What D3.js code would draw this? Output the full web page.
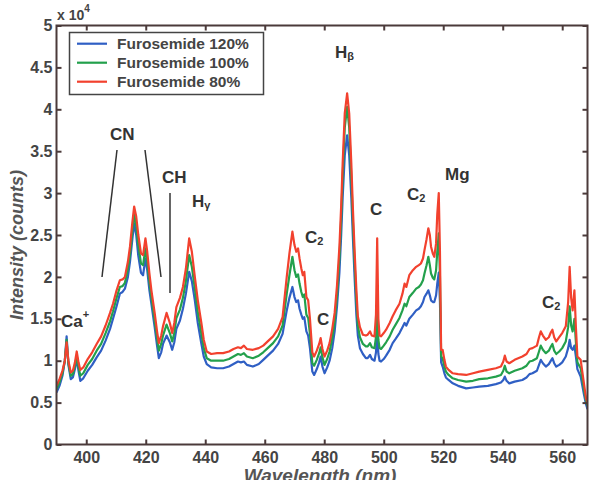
<!DOCTYPE html>
<html><head><meta charset="utf-8">
<script src="https://cdn.jsdelivr.net/npm/d3@7"></script>
<style>body{margin:0;background:#fff}svg{display:block}</style>
</head><body>
<svg id="c" width="590" height="480"></svg>
<script>
// ---- data (intensity in units of 1e4 counts) ----
const seriesNames = ["Furosemide 120%", "Furosemide 100%", "Furosemide 80%"];
const seriesColors = ["#2f5fc4", "#23a04c", "#f2412e"];
const xTicks = [400, 420, 440, 460, 480, 500, 520, 540, 560];
const yTicks = [0, 0.5, 1, 1.5, 2, 2.5, 3, 3.5, 4, 4.5, 5];
const yTickLabels = ["0", "0.5", "1", "1.5", "2", "2.5", "3", "3.5", "4", "4.5", "5"];

const blue120 = [[390.0,0.62],[391.0,0.70],[392.0,0.82],[392.8,1.00],[393.4,1.29],[394.0,0.95],[394.8,0.78],[395.5,0.80],[396.2,0.90],[396.8,1.02],[397.4,0.88],[398.0,0.76],[399.0,0.79],[400.5,0.88],[402.0,0.95],[403.5,1.04],[405.0,1.12],[406.5,1.24],[408.0,1.38],[409.0,1.50],[410.2,1.65],[411.3,1.80],[412.2,1.82],[413.0,1.86],[414.0,2.00],[414.7,2.18],[415.5,2.45],[416.1,2.64],[416.8,2.50],[417.5,2.25],[418.4,2.05],[419.1,2.02],[419.9,2.22],[420.5,2.08],[421.2,1.85],[421.9,1.68],[423.0,1.40],[423.8,1.18],[424.4,1.03],[425.2,1.10],[425.8,1.20],[427.0,1.30],[428.1,1.22],[428.9,1.13],[429.6,1.22],[430.3,1.38],[431.5,1.48],[432.5,1.62],[433.5,1.80],[434.6,2.06],[435.5,1.95],[436.5,1.72],[437.5,1.45],[438.7,1.20],[439.5,1.05],[440.5,0.96],[442.0,0.92],[444.0,0.91],[446.0,0.91],[448.0,0.93],[449.5,0.96],[451.0,0.99],[452.0,0.98],[453.0,0.99],[454.0,0.95],[456.0,0.93],[458.0,0.96],[459.5,1.01],[461.0,1.06],[462.8,1.12],[464.5,1.20],[466.0,1.32],[467.4,1.60],[468.3,1.75],[469.3,1.88],[470.0,1.76],[470.6,1.70],[471.2,1.72],[471.7,1.62],[472.3,1.55],[472.8,1.50],[473.3,1.52],[474.0,1.35],[474.6,1.30],[475.2,1.15],[476.0,0.87],[476.6,0.83],[477.5,0.90],[478.3,0.98],[478.8,1.05],[479.4,0.93],[480.1,0.85],[481.0,0.92],[481.8,1.00],[482.7,1.15],[483.5,1.35],[484.3,1.65],[485.1,2.05],[485.7,2.50],[486.2,2.95],[486.9,3.45],[487.7,3.69],[488.4,3.45],[489.1,2.95],[489.6,2.50],[490.2,2.00],[490.8,1.55],[491.3,1.30],[492.0,1.15],[493.0,1.08],[494.0,1.03],[494.6,1.03],[495.4,1.07],[496.0,1.02],[496.9,1.00],[497.4,1.10],[497.8,1.35],[498.2,1.08],[498.6,1.00],[499.1,0.99],[500.0,1.02],[500.8,1.06],[502.0,1.13],[503.0,1.21],[504.0,1.26],[505.3,1.33],[506.3,1.40],[507.0,1.45],[507.6,1.42],[508.6,1.50],[509.8,1.55],[510.9,1.60],[511.8,1.62],[512.5,1.65],[513.2,1.70],[513.7,1.76],[514.4,1.80],[515.0,1.84],[515.5,1.78],[515.9,1.72],[516.5,1.70],[517.0,1.70],[517.6,1.78],[518.0,1.92],[518.5,2.05],[518.9,1.70],[519.3,0.98],[519.8,0.93],[520.4,0.85],[520.9,0.80],[521.8,0.77],[523.2,0.73],[525.0,0.70],[527.7,0.67],[530.0,0.68],[532.1,0.69],[535.0,0.70],[537.7,0.72],[539.4,0.74],[540.2,0.77],[540.7,0.81],[541.3,0.76],[542.2,0.73],[544.0,0.75],[546.6,0.77],[548.0,0.80],[549.0,0.84],[550.0,0.85],[551.5,0.88],[552.2,0.95],[552.8,1.01],[553.5,0.97],[554.5,0.93],[555.5,0.96],[556.2,1.00],[556.7,1.03],[557.3,0.97],[558.0,0.93],[559.0,0.95],[560.0,0.98],[561.2,1.05],[562.0,1.15],[562.5,1.25],[563.0,1.15],[563.5,1.13],[564.1,1.18],[564.6,1.05],[565.1,0.90],[566.2,0.81],[567.3,0.60],[568.0,0.48],[568.5,0.42]];

const green100 = [[390.0,0.66],[391.0,0.74],[392.0,0.85],[392.8,1.00],[393.4,1.25],[394.0,0.97],[394.8,0.82],[395.5,0.84],[396.2,0.94],[396.8,1.06],[397.4,0.93],[398.0,0.82],[399.0,0.85],[400.5,0.95],[402.0,1.02],[403.5,1.12],[405.0,1.20],[406.5,1.33],[408.0,1.47],[409.0,1.59],[410.2,1.75],[411.3,1.88],[412.2,1.89],[413.0,1.93],[414.0,2.09],[414.7,2.27],[415.5,2.55],[416.1,2.75],[416.8,2.61],[417.5,2.38],[418.4,2.16],[419.1,2.14],[419.9,2.34],[420.5,2.19],[421.2,1.95],[421.9,1.76],[423.0,1.48],[423.8,1.27],[424.4,1.12],[425.2,1.20],[425.8,1.30],[427.0,1.43],[428.1,1.33],[428.9,1.23],[429.6,1.33],[430.3,1.51],[431.5,1.61],[432.5,1.75],[433.5,1.95],[434.6,2.26],[435.5,2.12],[436.5,1.86],[437.5,1.58],[438.7,1.32],[439.5,1.15],[440.5,1.03],[442.0,1.00],[444.0,1.00],[446.0,1.00],[448.0,1.02],[449.5,1.05],[451.0,1.08],[452.0,1.07],[453.0,1.09],[454.0,1.05],[456.0,1.03],[458.0,1.06],[459.5,1.10],[461.0,1.15],[462.8,1.21],[464.5,1.29],[466.0,1.42],[467.4,1.80],[468.3,2.02],[469.3,2.24],[470.0,2.08],[470.6,2.00],[471.2,2.03],[471.7,1.92],[472.3,1.82],[472.8,1.76],[473.3,1.79],[474.0,1.55],[474.6,1.51],[475.2,1.32],[476.0,0.97],[476.6,0.94],[477.5,1.01],[478.3,1.09],[478.8,1.16],[479.4,1.04],[480.1,0.95],[481.0,1.02],[481.8,1.11],[482.7,1.27],[483.5,1.46],[484.3,1.78],[485.1,2.22],[485.7,2.70],[486.2,3.20],[486.9,3.78],[487.7,4.03],[488.4,3.78],[489.1,3.20],[489.6,2.70],[490.2,2.18],[490.8,1.72],[491.3,1.42],[492.0,1.28],[493.0,1.20],[494.0,1.17],[494.6,1.17],[495.4,1.21],[496.0,1.16],[496.9,1.15],[497.4,1.28],[497.8,1.60],[498.2,1.25],[498.6,1.15],[499.1,1.14],[500.0,1.18],[500.8,1.22],[502.0,1.29],[503.0,1.37],[504.0,1.43],[505.3,1.51],[506.3,1.60],[507.0,1.68],[507.6,1.65],[508.6,1.76],[509.8,1.81],[510.9,1.86],[511.8,1.88],[512.5,1.91],[513.2,1.96],[513.7,2.04],[514.4,2.14],[515.0,2.24],[515.5,2.14],[515.9,2.04],[516.5,1.99],[517.0,1.97],[517.6,2.08],[518.0,2.30],[518.5,2.52],[518.9,2.00],[519.3,1.05],[519.8,1.03],[520.4,0.93],[520.9,0.87],[521.8,0.83],[523.2,0.79],[525.0,0.77],[527.7,0.75],[530.0,0.76],[532.1,0.78],[535.0,0.79],[537.7,0.81],[539.4,0.83],[540.2,0.88],[540.7,0.94],[541.3,0.87],[542.2,0.85],[544.0,0.88],[546.6,0.91],[548.0,0.94],[549.0,0.99],[550.0,1.00],[551.5,1.03],[552.2,1.11],[552.8,1.18],[553.5,1.13],[554.5,1.09],[555.5,1.12],[556.2,1.17],[556.7,1.20],[557.3,1.12],[558.0,1.08],[559.0,1.11],[560.0,1.15],[561.2,1.23],[562.0,1.40],[562.5,1.65],[563.0,1.42],[563.5,1.35],[564.1,1.50],[564.6,1.22],[565.1,0.98],[566.2,0.91],[567.3,0.66],[568.0,0.52],[568.5,0.46]];

const red80 = [[390.0,0.70],[391.0,0.78],[392.0,0.88],[392.8,1.00],[393.4,1.22],[394.0,1.00],[394.8,0.86],[395.5,0.88],[396.2,0.98],[396.8,1.11],[397.4,0.98],[398.0,0.89],[399.0,0.92],[400.5,1.02],[402.0,1.10],[403.5,1.20],[405.0,1.29],[406.5,1.42],[408.0,1.57],[409.0,1.68],[410.2,1.84],[411.3,1.96],[412.2,1.97],[413.0,2.00],[414.0,2.18],[414.7,2.36],[415.5,2.65],[416.1,2.84],[416.8,2.72],[417.5,2.50],[418.4,2.28],[419.1,2.26],[419.9,2.46],[420.5,2.30],[421.2,2.05],[421.9,1.84],[423.0,1.57],[423.8,1.35],[424.4,1.21],[425.2,1.30],[425.8,1.41],[427.0,1.57],[428.1,1.45],[428.9,1.33],[429.6,1.45],[430.3,1.64],[431.5,1.75],[432.5,1.88],[433.5,2.10],[434.6,2.46],[435.5,2.30],[436.5,2.00],[437.5,1.72],[438.7,1.45],[439.5,1.25],[440.5,1.11],[442.0,1.08],[444.0,1.09],[446.0,1.09],[448.0,1.11],[449.5,1.14],[451.0,1.16],[452.0,1.15],[453.0,1.18],[454.0,1.14],[456.0,1.13],[458.0,1.15],[459.5,1.18],[461.0,1.23],[462.8,1.29],[464.5,1.38],[466.0,1.52],[467.4,2.00],[468.3,2.28],[469.3,2.54],[470.0,2.38],[470.6,2.30],[471.2,2.34],[471.7,2.22],[472.3,2.10],[472.8,2.02],[473.3,2.06],[474.0,1.76],[474.6,1.72],[475.2,1.50],[476.0,1.10],[476.6,1.05],[477.5,1.12],[478.3,1.20],[478.8,1.27],[479.4,1.14],[480.1,1.05],[481.0,1.12],[481.8,1.21],[482.7,1.38],[483.5,1.57],[484.3,1.90],[485.1,2.36],[485.7,2.85],[486.2,3.36],[486.9,3.95],[487.7,4.19],[488.4,3.95],[489.1,3.36],[489.6,2.85],[490.2,2.32],[490.8,1.85],[491.3,1.53],[492.0,1.40],[493.0,1.31],[494.0,1.30],[494.6,1.31],[495.4,1.35],[496.0,1.30],[496.9,1.29],[497.4,1.55],[497.8,2.46],[498.2,1.50],[498.6,1.30],[499.1,1.29],[500.0,1.33],[500.8,1.37],[502.0,1.45],[503.0,1.53],[504.0,1.60],[505.3,1.68],[506.3,1.80],[507.0,1.92],[507.6,1.88],[508.6,2.02],[509.8,2.08],[510.9,2.12],[511.8,2.14],[512.5,2.16],[513.2,2.22],[513.7,2.32],[514.4,2.45],[515.0,2.58],[515.5,2.50],[515.9,2.36],[516.5,2.28],[517.0,2.24],[517.6,2.40],[518.0,2.75],[518.5,3.00],[518.9,2.30],[519.3,1.13],[519.8,1.13],[520.4,1.01],[520.9,0.93],[521.8,0.89],[523.2,0.85],[525.0,0.84],[527.7,0.83],[530.0,0.85],[532.1,0.87],[535.0,0.89],[537.7,0.91],[539.4,0.93],[540.2,0.99],[540.7,1.06],[541.3,0.99],[542.2,0.97],[544.0,1.01],[546.6,1.05],[548.0,1.08],[549.0,1.14],[550.0,1.15],[551.5,1.18],[552.2,1.28],[552.8,1.35],[553.5,1.30],[554.5,1.25],[555.5,1.28],[556.2,1.34],[556.7,1.37],[557.3,1.28],[558.0,1.23],[559.0,1.28],[560.0,1.33],[561.2,1.41],[562.0,1.70],[562.5,2.12],[563.0,1.75],[563.5,1.60],[564.1,1.84],[564.6,1.40],[565.1,1.05],[566.2,1.01],[567.3,0.73],[568.0,0.55],[568.5,0.50]];

const seriesData = [blue120, green100, red80];

// ---- layout ----
const L = 56.5, R = 587.5, T = 25.5, B = 444.5;
const svg = d3.select("#c");
const x = d3.scaleLinear().domain([390, 568.5]).range([L, R]);
const y = d3.scaleLinear().domain([0, 5]).range([B, T]);
const axisColor = "#4b3a3a";
const tickFont = "bold 16px 'Liberation Sans', Arial, sans-serif";

svg.append("clipPath").attr("id", "clip").append("rect")
  .attr("x", L).attr("y", T).attr("width", R - L).attr("height", B - T);

// lines
const line = d3.line().x(d => x(d[0])).y(d => y(d[1]));
const g = svg.append("g").attr("clip-path", "url(#clip)");
seriesData.forEach((s, i) => {
  g.append("path").datum(s).attr("d", line)
    .attr("fill", "none").attr("stroke", seriesColors[i])
    .attr("stroke-width", 2.2).attr("stroke-linejoin", "round");
});

// axes (MATLAB style box with inward ticks)
const ax = svg.append("g");
ax.append("g").attr("transform", `translate(0,${B})`)
  .call(d3.axisBottom(x).tickValues(xTicks).tickSize(-5).tickPadding(7).tickFormat(d3.format("d")));
ax.append("g").attr("transform", `translate(0,${T})`)
  .call(d3.axisTop(x).tickValues(xTicks).tickSize(-5).tickFormat(""));
ax.append("g").attr("transform", `translate(${L},0)`)
  .call(d3.axisLeft(y).tickValues(yTicks).tickSize(-5).tickPadding(4).tickFormat((d, i) => yTickLabels[i]));
ax.append("g").attr("transform", `translate(${R},0)`)
  .call(d3.axisRight(y).tickValues(yTicks).tickSize(-5).tickFormat(""));
ax.selectAll(".domain").remove();
ax.selectAll(".tick line").attr("stroke", axisColor).attr("stroke-width", 2);
ax.selectAll(".tick text").style("font", tickFont).attr("fill", "#444");
svg.append("rect").attr("x", L).attr("y", T).attr("width", R - L).attr("height", B - T)
  .attr("fill", "none").attr("stroke", axisColor).attr("stroke-width", 2);

// exponent label
const ex = svg.append("text").attr("x", 57).attr("y", 20).attr("fill", "#444")
  .style("font", "bold 14px 'Liberation Sans', Arial, sans-serif");
ex.append("tspan").text("x 10");
ex.append("tspan").attr("dy", -8).style("font-size", "10px").text("4");

// axis titles
svg.append("text").attr("x", (L + R) / 2 - 2).attr("y", 482).attr("text-anchor", "middle")
  .attr("fill", "#555").style("font", "italic bold 19px 'Liberation Sans', Arial, sans-serif")
  .text("Wavelength (nm)");
svg.append("text").attr("transform", "translate(23,245) rotate(-90)").attr("text-anchor", "middle")
  .attr("fill", "#555").style("font", "italic bold 18px 'Liberation Sans', Arial, sans-serif")
  .text("Intensity (counts)");

// legend
const lg = svg.append("g");
lg.append("rect").attr("x", 69.5).attr("y", 32.5).attr("width", 194).attr("height", 62)
  .attr("fill", "#fff").attr("stroke", "#444").attr("stroke-width", 1.5);
seriesNames.forEach((n, i) => {
  const yy = 43.7 + i * 19;
  lg.append("line").attr("x1", 77).attr("x2", 107).attr("y1", yy).attr("y2", yy)
    .attr("stroke", seriesColors[i]).attr("stroke-width", 2.2);
  lg.append("text").attr("x", 117).attr("y", yy + 5.5).attr("fill", "#444")
    .style("font", "bold 15.5px 'Liberation Sans', Arial, sans-serif").text(n);
});

// peak annotations
const annFont = "bold 17px 'Liberation Sans', Arial, sans-serif";
function ann(x0, y0, main, sub, supFlag) {
  const t = svg.append("text").attr("x", x0).attr("y", y0).attr("fill", "#333").style("font", annFont);
  t.append("tspan").text(main);
  if (sub) t.append("tspan").attr("dy", supFlag ? -9 : 2).style("font-size", "11px").text(sub);
}
ann(61, 327, "Ca", "+", true);
ann(110, 140, "CN");
ann(162, 183, "CH");
ann(192, 207, "H", "γ");
ann(305, 243, "C", "2");
ann(317, 325, "C");
ann(335, 58, "H", "β");
ann(370, 215, "C");
ann(407, 200, "C", "2");
ann(445, 180, "Mg");
ann(542, 308, "C", "2");

const annLines = [[[117, 150], [102, 277]], [[145, 150], [161, 277]], [[170, 193], [170, 293]]];
annLines.forEach(p => svg.append("line")
  .attr("x1", p[0][0]).attr("y1", p[0][1]).attr("x2", p[1][0]).attr("y2", p[1][1])
  .attr("stroke", "#333").attr("stroke-width", 1.5));
</script>
</body></html>
